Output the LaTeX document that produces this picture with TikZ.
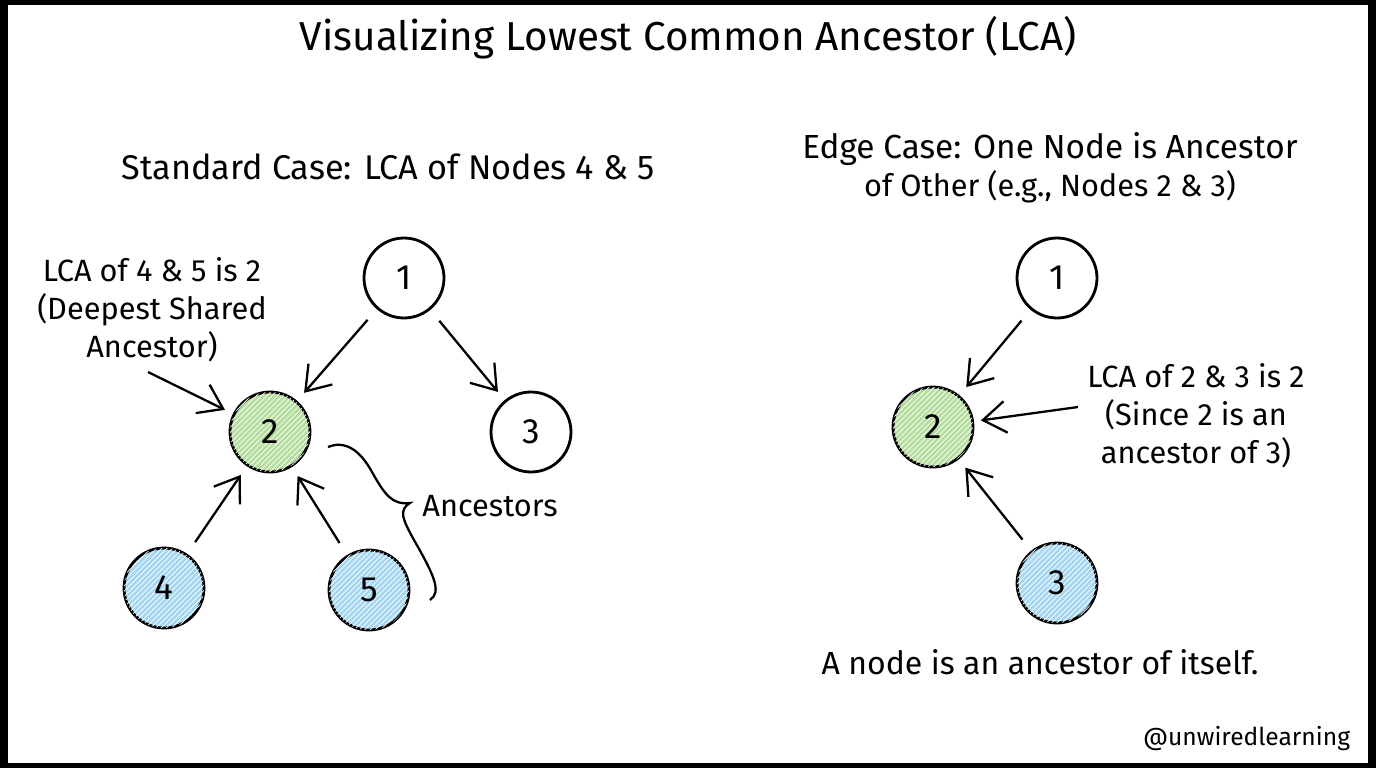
\documentclass[tikz,border=0pt]{standalone}
\usepackage{fontspec}
\setmainfont{Fira Sans}
\usepackage{tikz}
\usetikzlibrary{arrows.meta, patterns}

\definecolor{lcagreen}{HTML}{B5DE9E}
\definecolor{nodeblue}{HTML}{A5D6F2}

\begin{document}
\begin{tikzpicture}[
            x = 0.02cm, y = -0.02cm, % one unit = one pixel
            > = {Straight Barb[length=13pt, width=18pt, line width=1.3pt]}, % arrow head style
            line width = 1.3pt, % line style
            every node/.style = {font=\fontsize{17.5}{21.5}\selectfont}
        ]

        \tikzstyle{tree}=[
            circle,
            draw = black,
            line width = 1.6pt,
            fill = white,
            minimum size = 1.6cm,
            inner sep = 0pt,
            font = \fontsize{20}{24}\selectfont
        ]
        \tikzstyle{lca}=[tree, fill = lcagreen, postaction = {pattern = north east lines, pattern color = white}]
        \tikzstyle{leaf}=[tree, fill = nodeblue, postaction = {pattern = north east lines, pattern color = white}]
        \tikzstyle{link}=[->, shorten < = 8pt, shorten > = 6pt]
        \tikzstyle{note}=[align = center]

        % frame
        \fill[black] (0,0) rectangle (1376,768);
        \fill[white] (8,5) rectangle (1368,763);
        \useasboundingbox (0,0) rectangle (1376,768);

        \node (title) at (688,38) {\fontsize{23}{28}\selectfont Visualizing Lowest Common Ancestor (LCA)};

        % standard case
        \node (head1) at (388,167) {\fontsize{19.5}{24}\selectfont Standard Case: LCA of Nodes 4 \& 5};

        \node[tree] (a) at (404,278) {1};
        \node[lca] (b) at (270,432) {2};
        \node[tree] (c) at (531,432) {3};
        \node[leaf] (d) at (164,588) {4};
        \node[leaf] (e) at (369,590) {5};

        \path[link] (a) edge (b);
        \path[link] (a) edge (c);
        \path[link] (d) edge (b);
        \path[link] (e) edge (b);

        \node[note] (lcanote) at (152,310) {LCA of 4 \& 5 is 2\\(Deepest Shared\\Ancestor)};
        \coordinate (lcafrom) at (148,372);
        \draw[->, shorten > = 5pt] (lcafrom) -- (b);

        \draw (328,447) .. controls (345,440) and (360,450) .. (372,472)
            .. controls (385,495) and (392,505) .. (410,503)
            .. controls (398,510) and (403,520) .. (414,540)
            .. controls (434,575) and (442,592) .. (430,600);
        \node (anc) at (490,506) {Ancestors};

        % edge case
        \node[note] (head2) at (1050,168) {\fontsize{19}{37}\selectfont Edge Case: One Node is Ancestor\\of Other (e.g., Nodes 2 \& 3)};

        \node[tree] (p) at (1057,278) {1};
        \node[lca] (q) at (933,427) {2};
        \node[leaf] (r) at (1057,583) {3};

        \path[link] (p) edge (q);
        \path[link] (r) edge (q);

        \node[note] (edgenote) at (1196,416) {LCA of 2 \& 3 is 2\\(Since 2 is an\\ancestor of 3)};
        \coordinate (edgefrom) at (1078,407);
        \draw[->, shorten > = 4pt] (edgefrom) -- (q);

        \node (self) at (1040,662) {\fontsize{18.2}{22}\selectfont A node is an ancestor of itself.};
        \node[anchor = east] (handle) at (1357,739) {\fontsize{14}{18}\selectfont @unwiredlearning};

  \end{tikzpicture}
\end{document}
